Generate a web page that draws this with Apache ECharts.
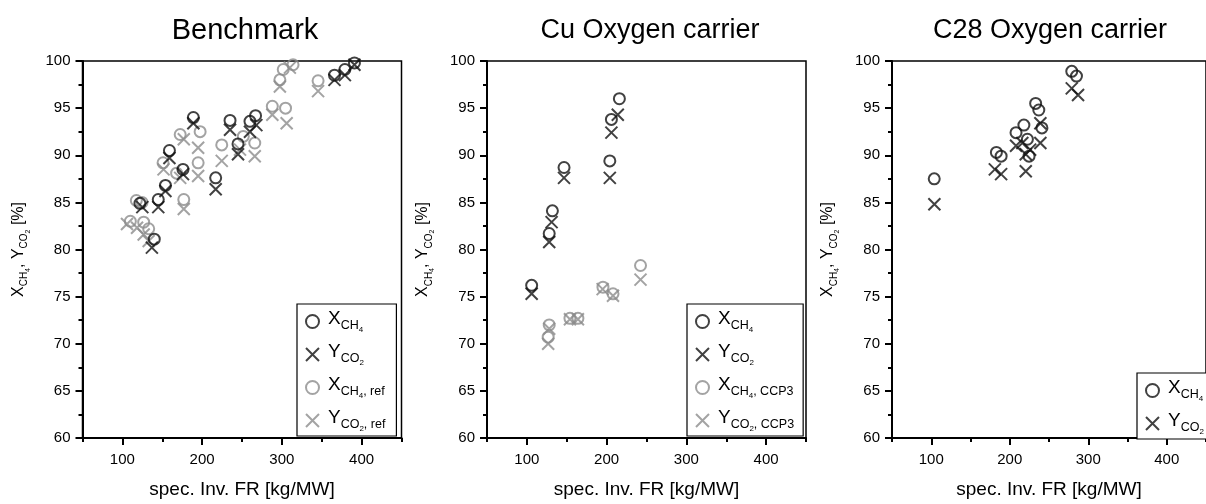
<!DOCTYPE html>
<html>
<head>
<meta charset="utf-8">
<script src="https://cdn.jsdelivr.net/npm/echarts@6/dist/echarts.min.js"></script>
<style>
html, body { margin: 0; padding: 0; background: #fff; }
#chart { width: 1206px; height: 504px; }
</style>
</head>
<body>
<div id="chart"></div>
<script>
// Panel titles
const panelTitles = ['Benchmark', 'Cu Oxygen carrier', 'C28 Oxygen carrier'];

// Axis tick values
const xLabelTicks = [100, 200, 300, 400];
const xMinorTicks = [50, 150, 250, 350, 450];

// Benchmark: [spec. inventory kg/MW, %]
const benchXch4 = [[122,84.9],[140,81.1],[145,85.3],[154,86.8],[159,90.5],[176,88.5],[189,94.0],[217,87.6],[235,93.7],[245,91.2],[260,93.6],[267,94.2],[366,98.5],[379,99.1],[391,99.8]];
const benchYco2 = [[125,84.5],[137,80.2],[145,84.5],[154,86.2],[159,89.7],[176,88.0],[189,93.4],[217,86.4],[235,92.7],[245,90.1],[260,92.5],[268,93.2],[366,98.0],[379,98.5],[391,99.6]];
const benchXch4Ref = [[110,83.0],[117.5,85.2],[124.6,85.0],[126.7,82.9],[133,82.2],[151,89.2],[168,88.1],[172.5,92.2],[177,85.3],[195,89.2],[197.5,92.5],[224.6,91.1],[251.6,92.0],[266,91.3],[288,95.2],[297.5,98.0],[301.7,99.1],[304.6,95.0],[314,99.6],[345.4,97.9]];
const benchYco2Ref = [[105.8,82.7],[118.4,82.3],[126.7,81.6],[133,80.9],[151.6,88.5],[172.5,87.6],[177,91.7],[177,84.3],[195,90.8],[195,87.8],[224.6,89.4],[247.5,90.6],[266,89.9],[288,94.3],[297.5,97.3],[306,93.4],[310,99.3],[345.4,96.8]];

// Cu oxygen carrier
const cuXch4 = [[106,76.2],[128,81.7],[132,84.1],[146.6,88.7],[204,89.4],[206,93.8],[216,96.0]];
const cuYco2 = [[106,75.3],[128,80.8],[131,82.9],[146.6,87.6],[204,87.6],[206,92.4],[214,94.3]];
const cuXch4Ccp3 = [[126.7,70.7],[128,72.0],[154,72.7],[164,72.7],[195.4,76.0],[208,75.3],[242.5,78.3]];
const cuYco2Ccp3 = [[126.7,70.0],[128,71.6],[154,72.6],[164,72.6],[195,75.8],[208,75.1],[242.5,76.8]];

// C28 oxygen carrier
const c28Xch4 = [[103.8,87.5],[183,90.3],[189,89.9],[208,92.4],[218,93.2],[222.5,91.7],[224.6,89.9],[233,95.5],[237,94.8],[241,92.9],[279,98.9],[285,98.4]];
const c28Yco2 = [[104,84.8],[181,88.5],[189,88.0],[208,91.0],[216,91.3],[220.4,90.1],[220.4,88.3],[226,90.6],[239,91.3],[239,93.4],[279,97.1],[287,96.4]];

const FONT = '"Liberation Sans", Arial, Helvetica, sans-serif';
const BLACK = '#111';
const GRAY = '#8c8c8c';
const CROSS = 'path://M0,0L10,10M10,0L0,10';

const gridLefts = [82.5, 487, 892];
const gridTop = 61, gridW = 319, gridH = 379;

// rich styles for subscripted labels (axis name)
const richName = {
  m: { fontSize: 16, fontFamily: FONT, color: '#000', verticalAlign: 'bottom', padding: [0, 0, 5, 0] },
  s: { fontSize: 10, fontFamily: FONT, color: '#000', verticalAlign: 'bottom', padding: [0, 0, 2, 0] },
  ss: { fontSize: 7, fontFamily: FONT, color: '#000', verticalAlign: 'bottom', padding: [0, 0, 0, 0] },
  t: { fontSize: 16, fontFamily: FONT, color: '#000', verticalAlign: 'bottom', padding: [0, 0, 5, 0] }
};
// rich styles for legend entries
const richLegend = {
  m: { fontSize: 19, fontFamily: FONT, color: '#000', verticalAlign: 'bottom', padding: [0, 0, 6, 4] },
  s: { fontSize: 12.5, fontFamily: FONT, color: '#000', verticalAlign: 'bottom', padding: [0, 0, 2, 0] },
  ss: { fontSize: 8, fontFamily: FONT, color: '#000', verticalAlign: 'bottom', padding: [0, 0, 0, 0] }
};

const legendLabels = {
  'xch4': '{m|X}{s|CH}{ss|4}',
  'yco2': '{m|Y}{s|CO}{ss|2}',
  'xref': '{m|X}{s|CH}{ss|4}{s|, ref}',
  'yref': '{m|Y}{s|CO}{ss|2}{s|, ref}',
  'xccp': '{m|X}{s|CH}{ss|4}{s|, CCP3}',
  'yccp': '{m|Y}{s|CO}{ss|2}{s|, CCP3}'
};

function circleSeries(id, name, data, color, gi) {
  return {
    id: id, name: name, type: 'scatter', xAxisIndex: gi, yAxisIndex: gi,
    data: data, symbol: 'circle', symbolSize: 11,
    itemStyle: { color: 'rgba(0,0,0,0)', borderColor: color, borderWidth: 2 },
    emphasis: { disabled: true }, silent: true
  };
}
function crossSeries(id, name, data, color, gi) {
  return {
    id: id, name: name, type: 'scatter', xAxisIndex: gi, yAxisIndex: gi,
    data: data, symbol: CROSS, symbolSize: 12,
    itemStyle: { color: 'rgba(0,0,0,0)', borderColor: color, borderWidth: 2 },
    emphasis: { disabled: true }, silent: true
  };
}

const grids = [], xAxes = [], yAxes = [], titles = [];
const titleCenters = [240, 645, 1045];
const titleSizes = [29, 27, 27];
for (let i = 0; i < 3; i++) {
  grids.push({ left: gridLefts[i], top: gridTop, width: gridW, height: gridH, show: true,
    borderColor: '#000', borderWidth: 1.5, containLabel: false });
  titles.push({ text: panelTitles[i], left: titleCenters[i], top: i === 0 ? 11 : 12, textAlign: 'center',
    textStyle: { fontFamily: FONT, fontSize: titleSizes[i], fontWeight: 'normal', color: '#000' } });
  xAxes.push({
    type: 'value', gridIndex: i, min: 50, max: 450, position: 'bottom',
    name: 'spec. Inv. FR [kg/MW]', nameLocation: 'middle', nameGap: 42,
    nameTextStyle: { fontFamily: FONT, fontSize: 19, color: '#000' },
    axisLine: { lineStyle: { color: '#000', width: 2 } },
    axisTick: { customValues: xLabelTicks, length: 7, lineStyle: { color: '#000', width: 2 } },
    axisLabel: { customValues: xLabelTicks, fontFamily: FONT, fontSize: 15, color: '#000', margin: 14 },
    splitLine: { show: false }
  });
  yAxes.push({
    type: 'value', gridIndex: i, min: 60, max: 100, interval: 5, position: 'left',
    name: '{m|X}{s|CH}{ss|4}{t|, Y}{s|CO}{ss|2}{t| [%]}',
    nameLocation: 'middle', nameRotate: 90, nameGap: 51,
    nameTextStyle: { rich: richName },
    axisLine: { lineStyle: { color: '#000', width: 2 } },
    axisTick: { length: 7, lineStyle: { color: '#000', width: 2 } },
    minorTick: { show: true, splitNumber: 2, length: 4, lineStyle: { color: '#000', width: 2 } },
    axisLabel: { fontFamily: FONT, fontSize: 15, color: '#000', margin: 12 },
    splitLine: { show: false }
  });
}
// short ticks between labelled x values
for (let i = 0; i < 3; i++) {
  xAxes.push({
    type: 'value', gridIndex: i, min: 50, max: 450, position: 'bottom',
    axisLine: { show: false },
    axisTick: { customValues: xMinorTicks, length: 4, lineStyle: { color: '#000', width: 2 } },
    axisLabel: { show: false },
    splitLine: { show: false }
  });
}

const series = [
  crossSeries('b-yref', 'yref', benchYco2Ref, GRAY, 0),
  circleSeries('b-xref', 'xref', benchXch4Ref, GRAY, 0),
  crossSeries('b-y', 'yco2', benchYco2, BLACK, 0),
  circleSeries('b-x', 'xch4', benchXch4, BLACK, 0),

  crossSeries('c-yccp', 'yccp', cuYco2Ccp3, GRAY, 1),
  circleSeries('c-xccp', 'xccp', cuXch4Ccp3, GRAY, 1),
  crossSeries('c-y', 'yco2', cuYco2, BLACK, 1),
  circleSeries('c-x', 'xch4', cuXch4, BLACK, 1),

  crossSeries('d-y', 'yco2', c28Yco2, BLACK, 2),
  circleSeries('d-x', 'xch4', c28Xch4, BLACK, 2)
];

function legendBox(left, top, names, padRight) {
  return {
    left: left, top: top, orient: 'vertical', data: names,
    itemWidth: 13, itemHeight: 13, itemGap: 8,
    borderColor: '#000', borderWidth: 1.2, padding: [5, padRight, 3, 8],
    backgroundColor: '#fff', selectedMode: false,
    formatter: function (n) { return legendLabels[n]; },
    textStyle: { rich: richLegend }
  };
}

const chart = echarts.init(document.getElementById('chart'), null, { renderer: 'canvas' });
chart.setOption({
  animation: false,
  title: titles,
  grid: grids,
  xAxis: xAxes,
  yAxis: yAxes,
  legend: [
    legendBox(297, 304, ['xch4', 'yco2', 'xref', 'yref'], 11),
    legendBox(687, 304, ['xch4', 'yco2', 'xccp', 'yccp'], 9),
    legendBox(1137, 373, ['xch4', 'yco2'], 8)
  ],
  series: series
});
</script>
</body>
</html>
